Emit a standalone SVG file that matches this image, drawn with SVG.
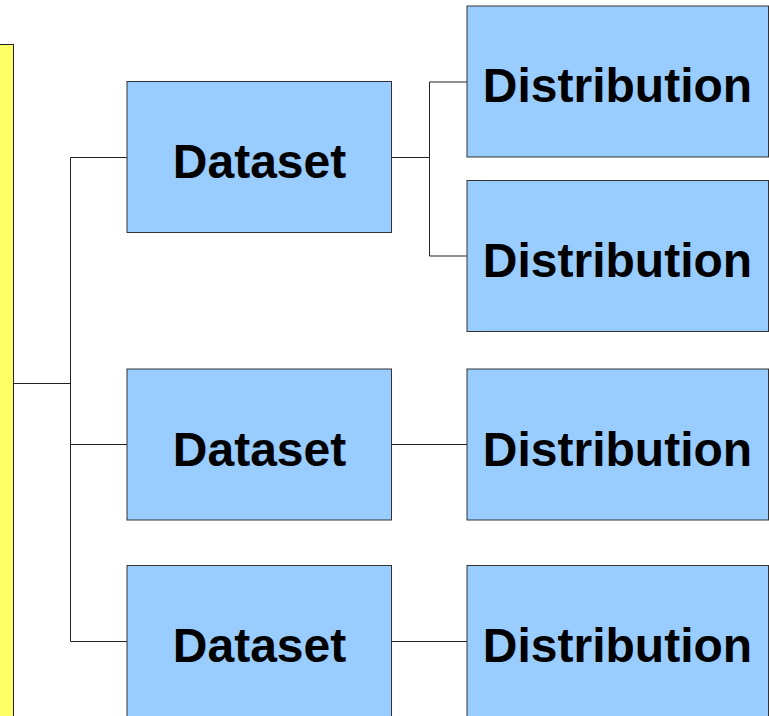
<svg xmlns="http://www.w3.org/2000/svg" width="769" height="716" viewBox="0 0 769 716">
<style>
.ds{fill:#99CCFF;stroke:#333;stroke-width:1}
.root{fill:#FFFF66;stroke:#222;stroke-width:1}
.t{font-family:"Liberation Sans",Arial,sans-serif;font-weight:bold;font-size:48px;fill:#000;text-anchor:middle}
.c{fill:none;stroke:#222;stroke-width:1}
</style>
<rect width="769" height="716" fill="#fff"/>
<g id="connectors">
<path class="c" d="M13 383.5H70.5M70.5 157.5V641.5M70.5 157.5H127M70.5 444.5H127M70.5 641.5H127"/>
<path class="c" d="M391 157.5H429.5M429.5 82V256M429.5 82H467M429.5 256H467"/>
<path class="c" d="M391 444.5H467M391 641.5H467"/>
</g>
<g id="root"><rect class="root" x="-10" y="44.5" width="23.5" height="700"/></g>
<g id="dataset1"><rect class="ds" x="127" y="81.5" width="264.5" height="151"/><text class="t" x="259.5" y="178">Dataset</text></g>
<g id="dataset2"><rect class="ds" x="127" y="369" width="264.5" height="151"/><text class="t" x="259.5" y="465.5">Dataset</text></g>
<g id="dataset3"><rect class="ds" x="127" y="565.5" width="264.5" height="151"/><text class="t" x="259.5" y="662">Dataset</text></g>
<g id="distribution1"><rect class="ds" x="467" y="6" width="301.5" height="151"/><text class="t" x="617.5" y="102">Distribution</text></g>
<g id="distribution2"><rect class="ds" x="467" y="180.5" width="301.5" height="151"/><text class="t" x="617.5" y="276.5">Distribution</text></g>
<g id="distribution3"><rect class="ds" x="467" y="369" width="301.5" height="151"/><text class="t" x="617.5" y="465.5">Distribution</text></g>
<g id="distribution4"><rect class="ds" x="467" y="565.5" width="301.5" height="151"/><text class="t" x="617.5" y="662">Distribution</text></g>
</svg>
